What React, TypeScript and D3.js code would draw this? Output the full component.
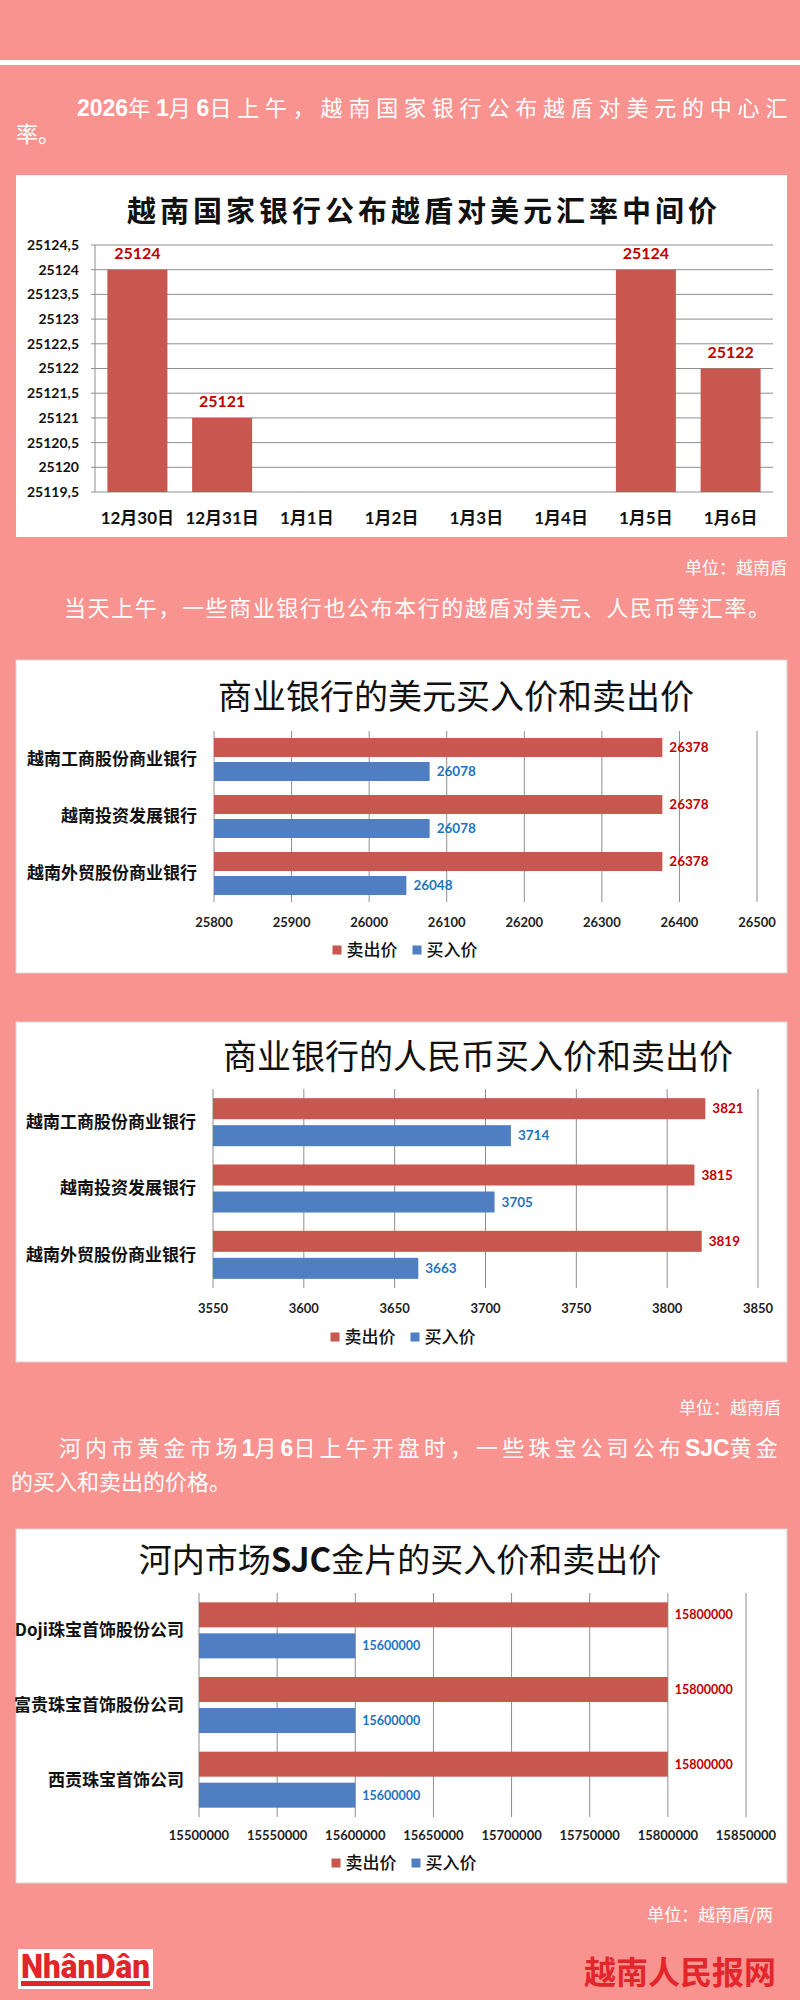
import React from 'react';
import * as d3 from 'd3';

// ---------- DATA ----------
const rateDates = ['12月30日', '12月31日', '1月1日', '1月2日', '1月3日', '1月4日', '1月5日', '1月6日'];
const rateValues: (number | null)[] = [25124, 25121, null, null, null, null, 25124, 25122];
const rateTicks = [25119.5, 25120, 25120.5, 25121, 25121.5, 25122, 25122.5, 25123, 25123.5, 25124, 25124.5];

const bankNames = ['越南工商股份商业银行', '越南投资发展银行', '越南外贸股份商业银行'];
const usdSell = [26378, 26378, 26378];
const usdBuy = [26078, 26078, 26048];
const usdTicks = [25800, 25900, 26000, 26100, 26200, 26300, 26400, 26500];

const cnySell = [3821, 3815, 3819];
const cnyBuy = [3714, 3705, 3663];
const cnyTicks = [3550, 3600, 3650, 3700, 3750, 3800, 3850];

const goldCompanies = ['Doji珠宝首饰股份公司', '富贵珠宝首饰股份公司', '西贡珠宝首饰公司'];
const goldSell = [15800000, 15800000, 15800000];
const goldBuy = [15600000, 15600000, 15600000];
const goldTicks = [15500000, 15550000, 15600000, 15650000, 15700000, 15750000, 15800000, 15850000];

const seriesNames = ['卖出价', '买入价'];

// ---------- STYLE ----------
const PINK = '#F99390';
const RED_BAR = '#C8584F';
const BLUE_BAR = '#4F7FC2';
const RED_TXT = '#C00000';
const BLUE_TXT = '#1F74C0';
const GRID = '#8E8E8E';
const CJK = '"Noto Sans CJK SC", "Noto Sans", sans-serif';
const NUM = 'Lato, "Noto Sans CJK SC", sans-serif';
const LATIN_BOLD = '"Liberation Sans", Arial, sans-serif';

const commaLocale = d3.formatLocale({ decimal: ',', thousands: '.', grouping: [3], currency: ['', ''] });
const fmtRate = (v: number) => (Number.isInteger(v) ? String(v) : commaLocale.format('.1f')(v));

function RateChart() {
  const x = d3.scaleBand<string>().domain(rateDates).range([95, 773]).paddingInner(0.292).paddingOuter(0.146);
  const y = d3.scaleLinear().domain([25119.5, 25124.5]).range([492, 245]);
  const base = y(25119.5);
  return (
    <g>
      <rect x={16} y={175} width={771} height={362} fill="#fff" />
      <text x={424} y={222} textAnchor="middle" fontFamily={CJK} fontWeight={600} fontSize={29}
        letterSpacing={4} fill="#111">越南国家银行公布越盾对美元汇率中间价</text>
      {rateTicks.map((t) => (
        <g key={t}>
          <line x1={95} x2={773} y1={y(t)} y2={y(t)} stroke={GRID} strokeWidth={1} />
          <line x1={91} x2={95} y1={y(t)} y2={y(t)} stroke={GRID} strokeWidth={1} />
          <text x={79} y={y(t)} dy="0.35em" textAnchor="end" fontFamily={NUM} fontWeight={700}
            fontSize={14} fill="#111">{fmtRate(t)}</text>
        </g>
      ))}
      <line x1={95} x2={95} y1={245} y2={492} stroke={GRID} strokeWidth={1} />
      {rateDates.map((d, i) => {
        const v = rateValues[i];
        const bx = x(d)!;
        return (
          <g key={d}>
            {v !== null && (
              <>
                <rect x={bx} y={y(v)} width={x.bandwidth()} height={base - y(v)} fill={RED_BAR} />
                <text x={bx + x.bandwidth() / 2} y={y(v) - 11} textAnchor="middle" fontFamily={NUM}
                  fontWeight={700} fontSize={16} fill={RED_TXT}>{v}</text>
              </>
            )}
            <text x={bx + x.bandwidth() / 2} y={524} textAnchor="middle" fontFamily={NUM}
              fontWeight={700} fontSize={17} fill="#111">{d}</text>
          </g>
        );
      })}
    </g>
  );
}

type HCfg = {
  box: [number, number];
  title: React.ReactNode;
  titleX: number;
  titleY: number;
  titleSize: number;
  cats: string[];
  sell: number[];
  buy: number[];
  ticks: number[];
  xRange: [number, number];
  yRange: [number, number];
  groupPad: number;
  subPad: number;
  catRight: number;
  tickY: number;
  legendY: number;
  legendX: number;
  valueSize: number;
};

function HBarChart({ c }: { c: HCfg }) {
  const x = d3.scaleLinear().domain([c.ticks[0], c.ticks[c.ticks.length - 1]]).range(c.xRange);
  const y = d3.scaleBand<string>().domain(c.cats).range(c.yRange).paddingInner(c.groupPad).paddingOuter(c.groupPad / 2);
  const sub = d3.scaleBand<string>().domain(seriesNames).range([0, y.bandwidth()]).paddingInner(c.subPad);
  const x0 = x(c.ticks[0]);
  const legW = 9 + 5 + 51;
  const legStart = c.legendX - (legW * 2 + 15) / 2;
  return (
    <g>
      <rect x={16} y={c.box[0]} width={771} height={c.box[1] - c.box[0]} fill="#fff" stroke="#d6d6d6" strokeWidth={1} />
      <text x={c.titleX} y={c.titleY} textAnchor="middle" fontFamily={CJK} fontWeight={400}
        fontSize={c.titleSize} fill="#111">{c.title}</text>
      {c.ticks.map((t) => (
        <g key={t}>
          <line x1={x(t)} x2={x(t)} y1={c.yRange[0]} y2={c.yRange[1]} stroke={GRID} strokeWidth={1} />
          <text x={x(t)} y={c.tickY} dy="0.35em" textAnchor="middle" fontFamily={NUM} fontWeight={700}
            fontSize={13} fill="#222">{t}</text>
        </g>
      ))}
      {c.cats.map((cat, i) => {
        const gy = y(cat)!;
        const vals = [c.sell[i], c.buy[i]];
        return (
          <g key={cat}>
            <text x={c.catRight} y={gy + y.bandwidth() / 2} dy="0.35em" textAnchor="end" fontFamily={CJK}
              fontWeight={700} fontSize={17} fill="#111">{cat}</text>
            {seriesNames.map((s, k) => {
              const by = gy + sub(s)!;
              const v = vals[k];
              return (
                <g key={s}>
                  <rect x={x0} y={by} width={x(v) - x0} height={sub.bandwidth()} fill={k === 0 ? RED_BAR : BLUE_BAR} />
                  <text x={x(v) + 7} y={by + sub.bandwidth() / 2} dy="0.35em" fontFamily={NUM} fontWeight={700}
                    fontSize={c.valueSize} fill={k === 0 ? RED_TXT : BLUE_TXT}>{v}</text>
                </g>
              );
            })}
          </g>
        );
      })}
      {seriesNames.map((s, k) => {
        const lx = legStart + k * (legW + 15);
        return (
          <g key={s}>
            <rect x={lx} y={c.legendY - 4.5} width={9} height={9} fill={k === 0 ? RED_BAR : BLUE_BAR} />
            <text x={lx + 14} y={c.legendY} dy="0.36em" fontFamily={CJK} fontWeight={500} fontSize={17}
              fill="#111">{s}</text>
          </g>
        );
      })}
    </g>
  );
}

const usdCfg: HCfg = {
  box: [660, 973], title: '商业银行的美元买入价和卖出价', titleX: 456, titleY: 709, titleSize: 34,
  cats: bankNames, sell: usdSell, buy: usdBuy, ticks: usdTicks, xRange: [214, 757], yRange: [731, 902],
  groupPad: 0.246, subPad: 0.208, catRight: 197, tickY: 922, legendY: 950, legendX: 405, valueSize: 13.5,
};
const cnyCfg: HCfg = {
  box: [1022, 1362], title: '商业银行的人民币买入价和卖出价', titleX: 478, titleY: 1069, titleSize: 34,
  cats: bankNames, sell: cnySell, buy: cnyBuy, ticks: cnyTicks, xRange: [213, 758], yRange: [1089, 1288],
  groupPad: 0.276, subPad: 0.222, catRight: 196, tickY: 1308, legendY: 1337, legendX: 403, valueSize: 13.5,
};
const goldCfg: HCfg = {
  box: [1529, 1883],
  title: (<>河内市场<tspan fontWeight={700}>SJC</tspan>金片的买入价和卖出价</>),
  titleX: 400, titleY: 1572, titleSize: 33,
  cats: goldCompanies, sell: goldSell, buy: goldBuy, ticks: goldTicks, xRange: [199, 746], yRange: [1593, 1817],
  groupPad: 0.25, subPad: 0.194, catRight: 184, tickY: 1835, legendY: 1863, legendX: 404, valueSize: 12.5,
};

// bold latin run inside a paragraph (no extra spacing)
const B = ({ children }: { children: React.ReactNode }) => (
  <tspan fontFamily={LATIN_BOLD} fontWeight={700} fontSize={23} letterSpacing={0}>{children}</tspan>
);

export default function App() {
  const txt = { fontFamily: CJK, fontSize: 22, fill: '#fff' } as const;
  const s1 = 5.8;
  const s3 = 4.1;
  return (
    <div style={{ position: 'absolute', left: 0, top: 0, width: 800, height: 2000 }}>
      <svg width={800} height={2000} viewBox="0 0 800 2000" style={{ display: 'block' }}>
        <rect x={0} y={0} width={800} height={2000} fill={PINK} />
        <rect x={0} y={60} width={800} height={5} fill="#fff" />

        <text x={77} y={116} {...txt}>
          <B>2026</B><tspan letterSpacing={s1}>年</tspan><B>1</B><tspan letterSpacing={s1}>月</tspan>
          <B>6</B><tspan letterSpacing={s1}>日上午，越南国家银行公布越盾对美元的中心汇</tspan>
        </text>
        <text x={16} y={142} {...txt}>率。</text>

        <RateChart />

        <text x={787} y={574} textAnchor="end" fontFamily={CJK} fontSize={17} fill="#fff">单位：越南盾</text>
        <text x={64} y={616} {...txt} textLength={706} lengthAdjust="spacing">
          当天上午，一些商业银行也公布本行的越盾对美元、人民币等汇率。
        </text>

        <HBarChart c={usdCfg} />
        <HBarChart c={cnyCfg} />

        <text x={781} y={1414} textAnchor="end" fontFamily={CJK} fontSize={17} fill="#fff">单位：越南盾</text>
        <text x={59} y={1456} {...txt}>
          <tspan letterSpacing={s3}>河内市黄金市场</tspan><B>1</B><tspan letterSpacing={s3}>月</tspan><B>6</B>
          <tspan letterSpacing={s3}>日上午开盘时，一些珠宝公司公布</tspan><B>SJC</B>
          <tspan letterSpacing={s3}>黄金</tspan>
        </text>
        <text x={11} y={1490} {...txt}>的买入和卖出的价格。</text>

        <HBarChart c={goldCfg} />

        <text x={773} y={1921} textAnchor="end" fontFamily={CJK} fontSize={17} fill="#fff">单位：越南盾/两</text>

        <rect x={18} y={1949} width={135} height={40} fill="#fff" />
        <text x={21} y={1978} fontFamily="Roboto, sans-serif" fontWeight={900} fontSize={34} fill="#E0252B"
          textLength={129} lengthAdjust="spacingAndGlyphs">NhânDân</text>
        <rect x={21} y={1981} width={129} height={5} fill="#E0252B" />

        <text x={776} y={1984} textAnchor="end" fontFamily={CJK} fontWeight={700} fontSize={32}
          fill="#E3262B">越南人民报网</text>
      </svg>
    </div>
  );
}
